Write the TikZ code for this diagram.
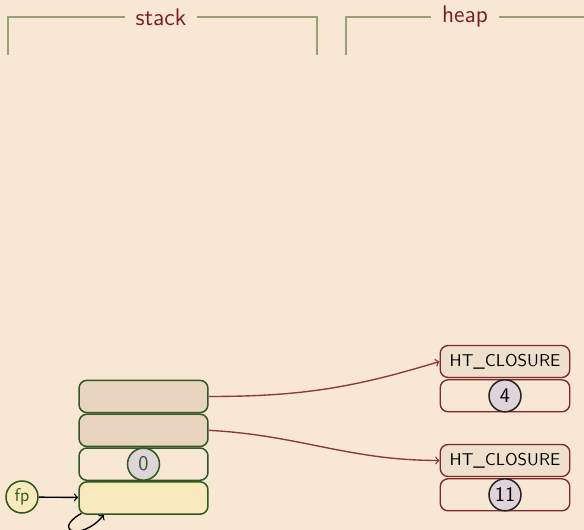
\documentclass[tikz,border=0pt]{standalone}
\usepackage{tikz}
\usetikzlibrary{positioning}

\definecolor{bgpeach}{RGB}{248,231,211}
\definecolor{frameline}{RGB}{150,162,118}
\definecolor{titlered}{RGB}{122,30,30}
\definecolor{stackgreen}{RGB}{48,88,34}
\definecolor{cellbrown}{RGB}{233,212,192}
\definecolor{cellyellow}{RGB}{248,234,186}
\definecolor{boxlilac}{RGB}{222,212,218}
\definecolor{heapred}{RGB}{128,40,40}
\definecolor{hdrfill}{RGB}{238,224,204}
\definecolor{ptrred}{RGB}{140,56,56}

\begin{document}
\begin{tikzpicture}[
  x=0.625pt, y=0.625pt,
  every node/.style={font=\sffamily\fontsize{10.7}{13}\selectfont},
  frame/.style ={draw=frameline, line width=0.8pt},
  title/.style ={text=titlered, font=\sffamily\fontsize{15}{18}\selectfont,
                  inner xsep=6.5pt},
  cell/.style  ={draw=stackgreen, line width=0.95pt, rounded corners=5pt,
                  minimum width=80.6pt, minimum height=20.2pt},
  hcell/.style ={draw=heapred, line width=0.85pt, rounded corners=5pt,
                  minimum width=81pt, minimum height=20pt},
  num/.style   ={circle, draw, line width=0.95pt, fill=boxlilac,
                  minimum size=20pt, inner sep=0pt,
                  font=\sffamily\fontsize{13}{15}\selectfont},
  ptr/.style   ={->, draw=ptrred, line width=0.85pt},
]

\fill[bgpeach] (0,0) rectangle (584,530);
\useasboundingbox (0,0) rectangle (584,530);

%% ---- Titles and frames ---------------------------------------------
\node[title] (stacklbl) at (161,513) {stack};
\node[title] (heaplbl)  at (465,513) {heap};

\draw[frame] (8,475) |- (stacklbl.west);
\draw[frame] (stacklbl.east) -| (317,475);
\draw[frame] (346,475) |- (heaplbl.west);
\draw[frame] (heaplbl.east) -- (584,513);

%% ---- Stack -----------------------------------------------------------
\node[cell, fill=cellbrown]              (c1) at (143.5,133.5) {};
\node[cell, fill=cellbrown, below=0pt of c1] (c2) {};
\node[cell, below=0pt of c2]                 (c3) {};
\node[cell, fill=cellyellow, below=0pt of c3] (c4) {};

\node[num, draw=stackgreen, text=stackgreen] (zero) at (c3) {0};

% frame pointer
\node[circle, draw=stackgreen, line width=0.95pt, fill=cellyellow,
      text=stackgreen, minimum size=20pt, inner sep=0pt,
      font=\sffamily\fontsize{11.5}{13}\selectfont] (fp) at (22,33) {fp};
\draw[->, line width=0.85pt] (fp) -- (c4);
\draw[->, line width=0.85pt] ([xshift=2pt,yshift=1pt]c4.south west)
     to[out=210, in=230, looseness=4] ([xshift=16pt]c4.south west);

%% ---- Heap ------------------------------------------------------------
\node[hcell, fill=hdrfill] (h1) at (505,168.5) {HT\_CLOSURE};
\node[hcell, below=0.6pt of h1] (b1) {};
\node[num, draw=black!85] (four) at (b1) {4};

\node[hcell, fill=hdrfill] (h2) at (505,69.5) {HT\_CLOSURE};
\node[hcell, below=0.6pt of h2] (b2) {};
\node[num, draw=black!85] (eleven) at (b2) {11};

% pointers
\draw[ptr] (c1.east) to[out=0, in=197] (h1.west);
\draw[ptr] (c2.east) to[out=-3, in=180] (h2.west);

\end{tikzpicture}
\end{document}
